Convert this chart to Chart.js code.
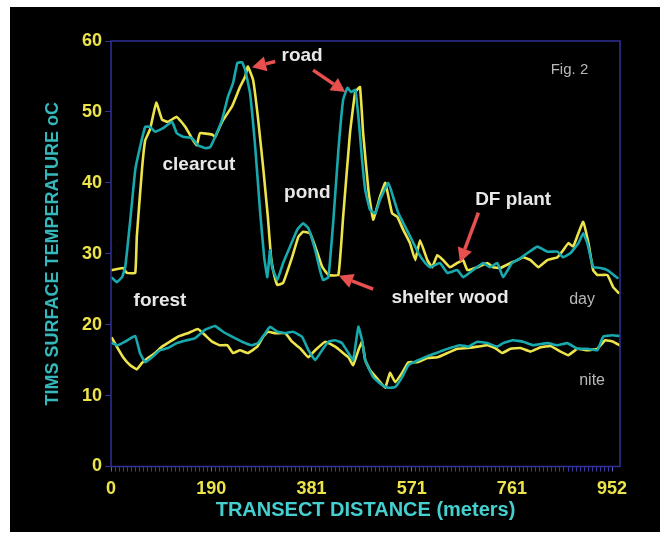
<!DOCTYPE html>
<html>
<head>
<meta charset="utf-8">
<script src="https://cdn.jsdelivr.net/npm/chart.js@4"></script>
<style>
  html, body { margin: 0; background: #fff; }
  #frame { position: absolute; left: 10px; top: 7px; width: 650px; height: 525px; background: #000; }
</style>
</head>
<body>
<div id="frame"><canvas id="timsChart" width="650" height="525"></canvas></div>
<script>
// TIMS transect, Fig. 2
// day + nite surface temperature along the transect, two passes each (yellow / cyan)

// distance along transect (m) and temperature (oC)
const dayYellowX = [2,23,30,46,49,59,65,74,86,97,108,125,141,156,163,169,192,198,211,230,245,255,260,270,279,289,298,304,310,316,327,344,356,365,378,388,401,413,432,441,454,464,473,479,489,498,511,521,534,544,555,568,578,587,601,610,620,631,644,658,669,677,696,715,726,740,759,772,783,797,812,829,848,859,869,878,888,897,907,916,924,943,954,964];
const dayYellowT = [27.7,28,27.3,27.3,32.4,42,46,47.5,51.3,48.9,48.6,49.3,47.9,46,45.3,47,46.8,46.5,48.6,50.8,53.5,55,56.4,54.5,49.3,42.2,35.2,29.5,27,25.6,25.9,29.5,32.4,33.1,32.9,31,28.2,27,27,35.2,47,52.8,53.5,47,39,34.8,38,40,35.7,35.2,33.4,31.5,29.1,31.9,29.1,28.1,29.8,29.1,28.1,28.7,29.1,27.7,28.1,28.7,28.1,28,28.7,29.1,29.5,29.1,28.1,29.1,29.5,30.5,31.5,31,32.9,34.5,31.5,27.7,27,27,25.3,24.5];

const dayCyanX = [2,11,21,27,36,46,55,65,74,84,99,116,125,137,154,165,179,188,198,211,222,232,240,249,255,264,274,283,291,297,302,306,316,327,340,354,365,375,388,397,403,413,422,432,441,449,456,464,470,477,483,492,502,511,527,536,546,559,572,584,597,606,625,639,658,669,688,707,720,734,745,762,778,791,810,829,848,859,873,888,897,905,916,930,943,962];
const dayCyanT = [26.6,26,26.7,28.1,34.3,41.8,45,47.9,47.9,47.2,47.7,48.6,47,46.5,46.3,45.3,44.9,45,46.5,48.9,52.1,54.1,56.9,57,55.9,52.7,45,36.2,29.5,26.7,30.5,28.1,26.3,28.7,31,33.4,34.3,33.6,30.5,27.7,26.3,26.7,34.3,44.6,51.7,53.4,52.8,53.1,49.3,43.2,39,36.2,35.7,37.6,40,38,35.7,33.8,31.9,30.1,28.7,28.1,28.7,27.3,27.7,26.7,27.7,28.7,28.1,28.7,26.7,28.7,29.4,30.1,31,30.3,30.3,29.5,30.1,31.5,32.9,31.5,28.1,28,27.7,26.6];

const niteYellowX = [2,11,23,36,49,59,70,84,97,112,127,146,165,179,192,207,221,232,245,260,278,289,298,312,331,344,359,375,388,407,426,441,451,460,470,477,483,492,508,521,530,540,553,565,582,601,620,639,658,677,696,715,730,743,759,778,797,816,835,854,869,886,905,924,939,954,966];
const niteYellowT = [18.1,16.9,15.4,14.3,13.7,14.6,15.3,16,16.9,17.6,18.3,18.8,19.4,18.5,17.6,17.1,17.1,16,16.4,16,16.9,18.3,19,18.8,18.8,17.6,16.7,15.4,16.4,17.6,16.9,16,15.4,14.3,16.4,17.6,15,13.6,12.2,11.1,13.2,11.9,13.2,14.7,14.7,15.3,15.4,16,16.6,16.7,16.9,17.1,16.7,16,16.6,16.7,16.2,16.8,17,16.2,15.7,16.6,16.4,16.6,17.8,17.6,17.1];

const niteCyanX = [2,13,27,46,55,65,78,93,108,125,144,160,179,198,213,230,249,268,279,293,302,316,331,346,363,375,388,401,413,426,439,451,460,470,477,483,498,515,527,540,553,565,584,606,625,644,663,679,696,715,734,745,764,783,802,829,848,867,886,905,924,935,952,966];
const niteCyanT = [17.4,17.1,17.6,18.4,16,14.7,15.4,16.4,16.7,17.4,17.8,18.1,19.3,19.8,19,18.3,17.6,17.1,17.4,18.8,19.7,19,18.8,19,18.3,16.4,15,16.4,17.6,17.8,17.4,16,15,19.7,17.8,15,12.6,11.5,11.1,11.2,12.6,14.3,15,15.7,16.2,16.7,17.1,16.9,17.6,17.4,16.9,17.4,17.8,17.6,17.1,17.4,17.1,17.4,16.6,16.6,16.4,18.3,18.5,18.4];

// x axis labels (every 25th minor tick)
const xTickLabels = ['0', '190', '381', '571', '761', '952'];
const xTransectEnd = 952;
const minorPerMajor = 25;

// text notes on the plot, anchored in data units (m, oC)
const noteText = ['road', 'clearcut', 'pond', 'DF plant', 'forest', 'shelter wood', 'day', 'nite', 'Fig. 2'];
const noteX    = [363, 167, 373, 764, 93, 644, 895, 914, 871];
const noteY    = [57.9, 42.5, 38.6, 37.6, 23.3, 23.8, 23.6, 12.1, 55.9];
const greyNotes = ['day', 'nite', 'Fig. 2'];

// red arrows: tail -> head, data units
const arrowTailX = [312, 384, 498, 698];
const arrowTailY = [57.1, 55.9, 25.0, 35.8];
const arrowHeadX = [268, 445, 433, 663];
const arrowHeadY = [56.3, 52.8, 26.9, 28.8];

const YELLOW = '#ece44a';
const CYAN = '#17a9ad';
const NAVY = '#30309a';
const FONT = '"Liberation Sans", Arial, sans-serif';

function pts(xs, ys) {
  return xs.map((x, i) => ({ x: x, y: ys[i] }));
}

function line(data, color) {
  return {
    data: data,
    borderColor: color,
    borderWidth: 2.6,
    pointRadius: 0,
    tension: 0.1,
    borderJoinStyle: 'round',
    borderCapStyle: 'round',
    fill: false,
  };
}

function drawArrow(ctx, x0, y0, x1, y1) {
  const a = Math.atan2(y1 - y0, x1 - x0);
  const head = 14, half = 7.5;
  const bx = x1 - head * Math.cos(a), by = y1 - head * Math.sin(a);
  ctx.beginPath();
  ctx.moveTo(x0, y0);
  ctx.lineTo(bx, by);
  ctx.lineWidth = 3.5;
  ctx.stroke();
  ctx.beginPath();
  ctx.moveTo(x1, y1);
  ctx.lineTo(bx + half * Math.sin(a), by - half * Math.cos(a));
  ctx.lineTo(bx - half * Math.sin(a), by + half * Math.cos(a));
  ctx.closePath();
  ctx.fill();
}

const notesPlugin = {
  id: 'notes',
  afterDatasetsDraw(chart) {
    const { ctx, chartArea, scales } = chart;
    const sx = scales.x, sy = scales.y;
    ctx.save();
    // frame round the plot
    ctx.strokeStyle = NAVY;
    ctx.lineWidth = 1.5;
    ctx.strokeRect(chartArea.left, chartArea.top, chartArea.right - chartArea.left, chartArea.bottom - chartArea.top);

    ctx.strokeStyle = '#e85050';
    ctx.fillStyle = '#e85050';
    for (let i = 0; i < arrowTailX.length; i++) {
      drawArrow(ctx,
        sx.getPixelForValue(arrowTailX[i]), sy.getPixelForValue(arrowTailY[i]),
        sx.getPixelForValue(arrowHeadX[i]), sy.getPixelForValue(arrowHeadY[i]));
    }

    ctx.textAlign = 'center';
    ctx.textBaseline = 'middle';
    noteText.forEach((t, i) => {
      if (greyNotes.includes(t)) {
        ctx.font = (t === 'Fig. 2' ? '15px ' : '16px ') + FONT;
        ctx.fillStyle = '#b8b8b8';
      } else {
        ctx.font = 'bold 19px ' + FONT;
        ctx.fillStyle = '#e8e8e8';
      }
      ctx.fillText(t, sx.getPixelForValue(noteX[i]), sy.getPixelForValue(noteY[i]));
    });
    ctx.restore();
  }
};

const ctx = document.getElementById('timsChart').getContext('2d');

new Chart(ctx, {
  type: 'line',
  data: {
    datasets: [
      line(pts(dayCyanX, dayCyanT), CYAN),
      line(pts(niteCyanX, niteCyanT), CYAN),
      line(pts(dayYellowX, dayYellowT), YELLOW),
      line(pts(niteYellowX, niteYellowT), YELLOW),
    ],
  },
  options: {
    responsive: false,
    devicePixelRatio: 1,
    animation: false,
    layout: { padding: { left: 0, right: 40, top: 34, bottom: 0 } },
    plugins: {
      legend: { display: false },
      tooltip: { enabled: false },
    },
    scales: {
      x: {
        type: 'linear',
        min: 0,
        max: 967,
        afterBuildTicks(scale) {
          const n = minorPerMajor * (xTickLabels.length - 1);
          const t = [];
          for (let i = 0; i <= n; i++) t.push({ value: i * xTransectEnd / n });
          scale.ticks = t;
        },
        afterFit(scale) { scale.height = 65.5; },
        ticks: {
          autoSkip: false,
          maxRotation: 0,
          padding: 7,
          color: YELLOW,
          font: { family: FONT, size: 18, weight: 'bold' },
          callback: (v, i) => (i % minorPerMajor === 0 ? xTickLabels[i / minorPerMajor] : ''),
        },
        grid: {
          drawOnChartArea: false,
          tickLength: 5,
          color: (c) => (c.index % minorPerMajor === 0 ? '#6060c0' : '#3a3aa0'),
        },
        border: { display: false },
        title: {
          display: true,
          text: 'TRANSECT DISTANCE (meters)',
          color: '#45cfcf',
          font: { family: FONT, size: 20, weight: 'bold' },
          padding: { top: 0, bottom: 10 },
        },
      },
      y: {
        min: 0,
        max: 60,
        afterFit(scale) { scale.width = 101; },
        ticks: {
          stepSize: 10,
          padding: 3,
          color: YELLOW,
          font: { family: FONT, size: 18, weight: 'bold' },
        },
        grid: {
          drawOnChartArea: false,
          tickLength: 6,
          color: NAVY,
        },
        border: { display: false },
        title: {
          display: true,
          text: 'TIMS SURFACE TEMPERATURE oC',
          color: '#35b8bb',
          font: { family: FONT, size: 18, weight: 'bold' },
          padding: { top: 32, bottom: 0 },
        },
      },
    },
  },
  plugins: [notesPlugin],
});
</script>
</body>
</html>
